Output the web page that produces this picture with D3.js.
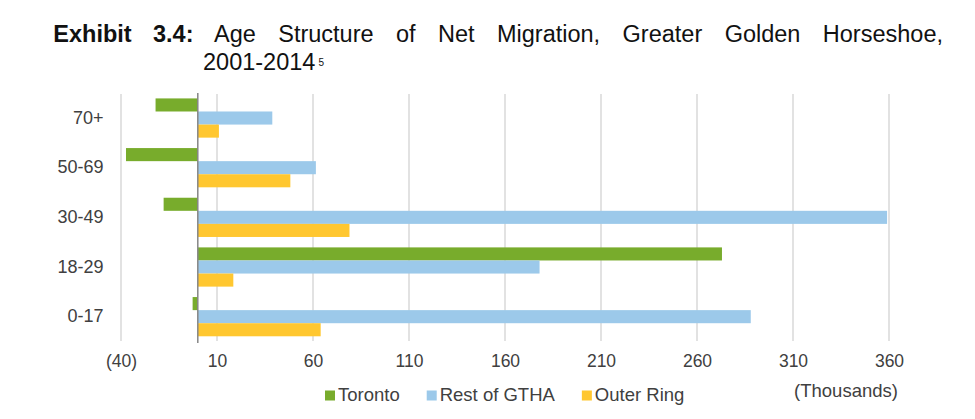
<!DOCTYPE html>
<html>
<head>
<meta charset="utf-8">
<script src="https://cdn.jsdelivr.net/npm/d3@7"></script>
<style>
  body { margin: 0; background: #fff; }
  svg text { font-family: "Liberation Sans", Arial, sans-serif; }
</style>
</head>
<body>
<svg id="chart" width="975" height="419"></svg>
<script>
"use strict";

// data (thousands)
const AGE_GROUPS = ['70+', '50-69', '30-49', '18-29', '0-17'];
const SERIES = ['Toronto', 'Rest of GTHA', 'Outer Ring'];
const TORONTO = [-22, -37.4, -17.8, 273, -2.7];
const REST_GTHA = [38.8, 61.5, 359, 178, 288];
const OUTER_RING = [11, 48.2, 79, 18.5, 64];
const X_TICKS = [-40, 10, 60, 110, 160, 210, 260, 310, 360];
const COLORS = ['#78ac2c', '#9cc9ea', '#ffc730'];

const TITLE_BOLD = ['Exhibit', '3.4:'];
const TITLE_WORDS = ['Age', 'Structure', 'of', 'Net', 'Migration,', 'Greater', 'Golden', 'Horseshoe,'];

const svg = d3.select('#chart');
const plot = { left: 121, right: 889, top: 93.2, bottom: 341.5 };

const x = d3.scaleLinear().domain([-40, 360]).range([plot.left, plot.right]);
const y = d3.scaleBand().domain(AGE_GROUPS).range([plot.top, plot.bottom])
    .paddingInner(0.21).paddingOuter(0.105);
const ySub = d3.scaleBand().domain(SERIES).range([0, y.bandwidth()]);

const rows = AGE_GROUPS.map((g, i) => ({
    group: g,
    values: [TORONTO[i], REST_GTHA[i], OUTER_RING[i]].map((v, j) => ({ series: SERIES[j], value: v }))
}));

// gridlines
svg.append('g')
    .selectAll('line')
    .data(X_TICKS)
    .join('line')
    .attr('x1', d => x(d)).attr('x2', d => x(d))
    .attr('y1', 94).attr('y2', 341)
    .attr('stroke', '#d9d9d9')
    .attr('stroke-width', 1.5);

// bars
svg.append('g')
    .selectAll('g')
    .data(rows)
    .join('g')
    .attr('transform', d => `translate(0, ${y(d.group)})`)
    .selectAll('rect')
    .data(d => d.values)
    .join('rect')
    .attr('x', d => x(Math.min(0, d.value)))
    .attr('y', d => ySub(d.series))
    .attr('width', d => Math.abs(x(d.value) - x(0)))
    .attr('height', ySub.bandwidth())
    .attr('fill', (d, i) => COLORS[i]);

// zero axis
svg.append('line')
    .attr('x1', x(0)).attr('x2', x(0))
    .attr('y1', 93).attr('y2', 343)
    .attr('stroke', '#868686')
    .attr('stroke-width', 1.5);

// x tick labels
const xAxis = d3.axisBottom(x)
    .tickValues(X_TICKS)
    .tickSize(0)
    .tickFormat(d => d < 0 ? `(${Math.abs(d)})` : d);
const gx = svg.append('g')
    .attr('transform', 'translate(0, 352)')
    .call(xAxis);
gx.select('.domain').remove();
gx.selectAll('text')
    .attr('font-size', 17.5)
    .attr('fill', '#404040')
    .style('font-family', '"Liberation Sans", Arial, sans-serif');

// category labels
const yAxis = d3.axisLeft(y).tickSize(0).tickPadding(0);
const gy = svg.append('g')
    .attr('transform', 'translate(103.5, 0)')
    .call(yAxis);
gy.select('.domain').remove();
gy.selectAll('text')
    .attr('font-size', 18)
    .attr('fill', '#404040')
    .style('font-family', '"Liberation Sans", Arial, sans-serif');

// units
svg.append('text')
    .attr('x', 846).attr('y', 397)
    .attr('text-anchor', 'middle')
    .attr('font-size', 18.5)
    .attr('fill', '#404040')
    .text('(Thousands)');

// legend
let lx = 325;
const legend = svg.append('g');
SERIES.forEach((s, i) => {
    legend.append('rect')
        .attr('x', lx).attr('y', 390.5)
        .attr('width', 10).attr('height', 10)
        .attr('fill', COLORS[i]);
    const t = legend.append('text')
        .attr('x', lx + 13).attr('y', 401)
        .attr('font-size', 18.5)
        .attr('fill', '#404040')
        .text(s);
    lx += 13 + t.node().getComputedTextLength() + 27;
});

// title, justified like the report text
const title = svg.append('g').attr('fill', '#111');
title.append('text')
    .attr('x', 53.3).attr('y', 41.7)
    .attr('font-size', 23.5).attr('font-weight', 'bold')
    .text(TITLE_BOLD[0]);
title.append('text')
    .attr('x', 153).attr('y', 41.7)
    .attr('font-size', 23.5).attr('font-weight', 'bold')
    .text(TITLE_BOLD[1]);

const words = TITLE_WORDS.map(w => title.append('text')
    .attr('y', 41.7)
    .attr('font-size', 23.5)
    .text(w));
const widths = words.map(t => t.node().getComputedTextLength());
const lineStart = 214, lineEnd = 943;
const gap = (lineEnd - lineStart - d3.sum(widths)) / (words.length - 1);
let wx = lineStart;
words.forEach((t, i) => {
    t.attr('x', wx);
    wx += widths[i] + gap;
});

const line2 = title.append('text')
    .attr('x', 203).attr('y', 70)
    .attr('font-size', 23.5)
    .text('2001-2014');
title.append('text')
    .attr('x', 203 + line2.node().getComputedTextLength() + 3)
    .attr('y', 65.5)
    .attr('font-size', 10)
    .text('5');
</script>
</body>
</html>
